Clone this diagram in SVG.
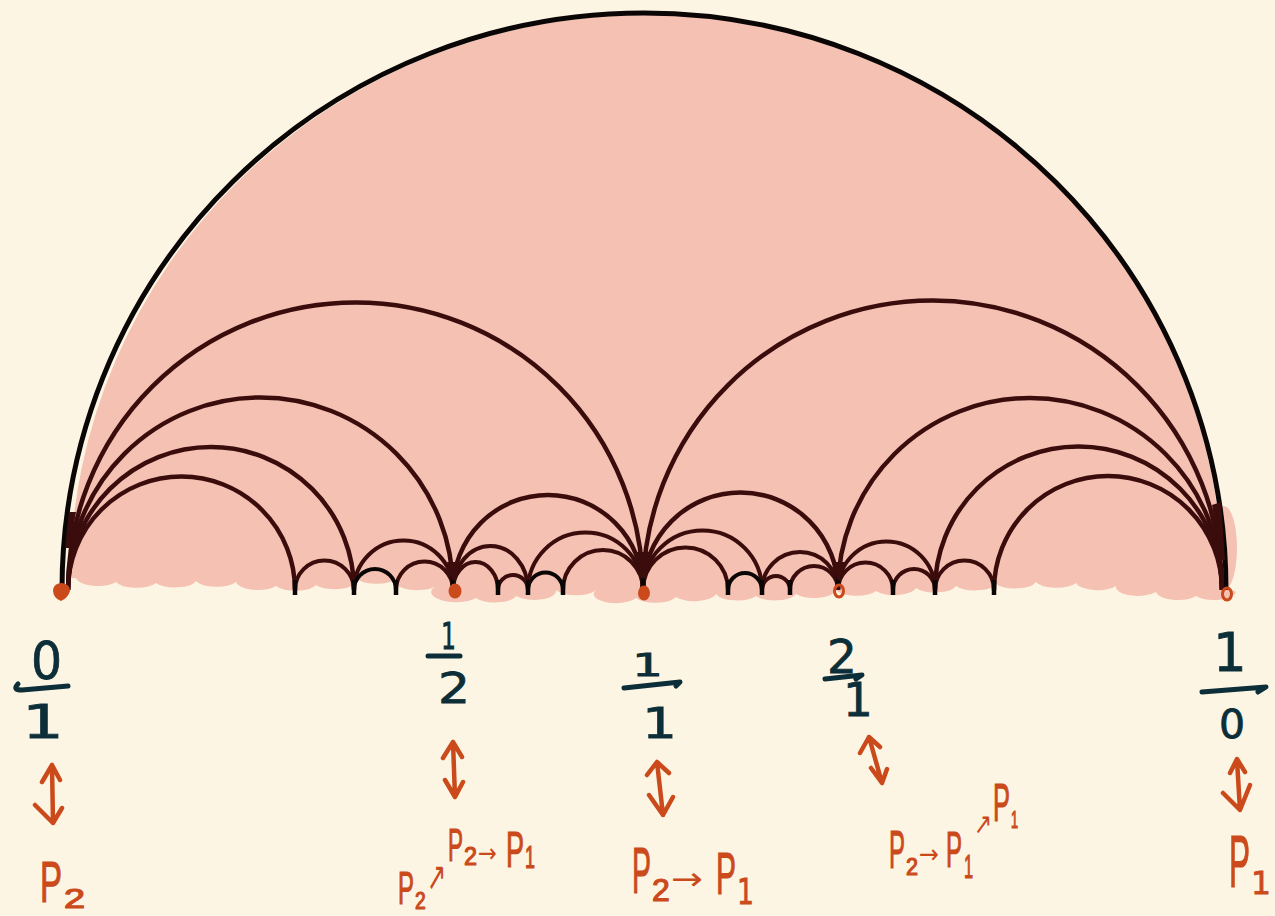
<svg xmlns="http://www.w3.org/2000/svg" width="1275" height="916" viewBox="0 0 1275 916">
<style>
.arc{fill:none;stroke:#3a0c0c;stroke-width:4.5;stroke-linecap:butt}
.sm{stroke-width:4}
.blk{stroke:#0a0606}
.tick{stroke:#0a0606;stroke-width:4.5}
.wedge{fill:#3a0c0c}
.num{font-family:"DejaVu Sans",sans-serif;fill:#0c2e38;stroke:#0c2e38;stroke-width:0.8}
.bar{fill:none;stroke:#0c2e38;stroke-width:5;stroke-linecap:round;stroke-linejoin:round}
.p{font-family:"Liberation Sans",sans-serif;fill:#cb4a1b;stroke:#cb4a1b;stroke-width:1.2}
.ar{font-family:"DejaVu Sans",sans-serif;fill:#cb4a1b}
.dj{font-family:"DejaVu Sans",sans-serif;fill:#cb4a1b;stroke:#cb4a1b;stroke-width:0.8}
.dbl{fill:none;stroke:#cb4a1b;stroke-width:4.5;stroke-linecap:round;stroke-linejoin:round}
.dot{fill:#cb4a1b}
.pink{fill:#f4c1b3}
</style>
<rect width="1275" height="916" fill="#fdf5e3"/>

<g id="fill">
<path class="pink" d="M 70 578 A 576 567 0 0 1 1222 585 L 1236 592
a 22 9 0 0 1 -40 4 a 22 9 0 0 1 -40 -4 a 22 9 0 0 1 -40 -6 a 22 9 0 0 1 -40 -3
a 22 9 0 0 1 -40 -1 a 22 9 0 0 1 -40 2 a 22 9 0 0 1 -40 2 a 22 9 0 0 1 -40 2
a 22 9 0 0 1 -40 3 a 22 9 0 0 1 -40 -1 a 22 9 0 0 1 -40 4 a 22 9 0 0 1 -40 2
a 22 9 0 0 1 -40 -2 a 22 9 0 0 1 -40 3 a 22 9 0 0 1 -40 1 a 22 9 0 0 1 -40 -8
a 22 9 0 0 1 -40 0 a 22 9 0 0 1 -40 6 a 22 9 0 0 1 -40 2 a 22 9 0 0 1 -40 -12
a 22 9 0 0 1 -40 -7 a 22 9 0 0 1 -40 -1 a 22 9 0 0 1 -40 7 a 22 9 0 0 1 -40 1
a 22 9 0 0 1 -40 -4 a 22 9 0 0 1 -40 -1 a 22 9 0 0 1 -40 2 a 22 9 0 0 1 -40 -1
a 22 9 0 0 1 -40 -4 Z"/>
<ellipse class="pink" cx="1224" cy="548" rx="13" ry="42"/>
</g>

<g id="connectors">
<path d="M 62 590 A 582 577 0 0 1 1226 590" fill="none" stroke="#0a0606" stroke-width="5"/>
<path class="arc" d="M 68 590 A 287.5 287.5 0 0 1 643 590"/>
<path class="arc" d="M 68 590 A 192.5 192.5 0 0 1 453 590"/>
<path class="arc" d="M 68 590 A 143 143 0 0 1 354 590"/>
<path class="arc" d="M 68 590 A 113.5 113.5 0 0 1 295 590"/>
<path class="arc" d="M 643 590 A 289.5 289.5 0 0 1 1222 590"/>
<path class="arc" d="M 838 590 A 192 192 0 0 1 1222 590"/>
<path class="arc" d="M 935 590 A 143.5 143.5 0 0 1 1222 590"/>
<path class="arc" d="M 994 590 A 114 114 0 0 1 1222 590"/>
<path class="arc" d="M 453 590 A 95 95 0 0 1 643 590"/>
<path class="arc" d="M 643 590 A 97.5 97.5 0 0 1 838 590"/>
<path class="arc sm" d="M 295 590 A 29.5 29.5 0 0 1 354 590"/>
<path class="arc sm" d="M 354 590 A 49.5 49.5 0 0 1 453 590"/>
<path class="arc sm blk" d="M 354 590 A 21 21 0 0 1 396 590"/>
<path class="arc sm" d="M 396 590 A 28.5 28.5 0 0 1 453 590"/>
<path class="arc sm" d="M 453 590 A 37.5 44 0 0 1 528 590"/>
<path class="arc sm" d="M 453 590 A 22.5 28 0 0 1 498 590"/>
<path class="arc sm" d="M 498 590 A 15 15 0 0 1 528 590"/>
<path class="arc sm blk" d="M 528 590 A 17.5 17.5 0 0 1 563 590"/>
<path class="arc sm" d="M 528 590 A 57.5 57.5 0 0 1 643 590"/>
<path class="arc sm" d="M 563 590 A 40 40 0 0 1 643 590"/>
<path class="arc sm" d="M 643 590 A 42.5 42.5 0 0 1 728 590"/>
<path class="arc sm" d="M 643 590 A 59.5 59.5 0 0 1 762 590"/>
<path class="arc sm blk" d="M 728 590 A 17 17 0 0 1 762 590"/>
<path class="arc sm" d="M 762 590 A 14 14 0 0 1 790 590"/>
<path class="arc sm" d="M 762 590 A 38 38 0 0 1 838 590"/>
<path class="arc sm" d="M 790 590 A 24 24 0 0 1 838 590"/>
<path class="arc sm" d="M 838 590 A 27.5 27.5 0 0 1 893 590"/>
<path class="arc sm" d="M 838 590 A 48.5 48.5 0 0 1 935 590"/>
<path class="arc sm" d="M 893 590 A 21 21 0 0 1 935 590"/>
<path class="arc sm" d="M 935 590 A 29.5 29.5 0 0 1 994 590"/>
<path class="tick" d="M 295 580 V 595 M 354 580 V 595 M 396 580 V 595 M 498 580 V 595 M 528 580 V 595 M 563 580 V 595 M 728 580 V 595 M 762 580 V 595 M 790 580 V 595 M 893 580 V 595 M 935 580 V 595 M 994 580 V 595"/>
<path class="tick" d="M 453 572 V 586 M 643 570 V 588 M 838 572 V 586"/>
<path class="wedge" d="M 634 552 L 652 552 L 646 578 L 641 578 Z"/>
<path class="wedge" d="M 447 562 L 460 562 L 456 580 L 452 580 Z"/>
<path class="wedge" d="M 832 562 L 845 562 L 841 580 L 837 580 Z"/>
<path class="wedge" d="M 65 548 L 69 512 L 76 512 L 70 548 Z"/>
<path class="wedge" d="M 1212 505 L 1221 502 L 1225 560 L 1221 560 Z"/>
<path class="dbl" d="M 52 765 L 53 823 M 42 782 L 52 765 L 60 780 M 35 805 L 53 823 L 62 808"/>
<path class="dbl" d="M 453 742 L 455 797 M 443 758 L 453 742 L 462 757 M 445 780 L 455 797 L 463 782"/>
<path class="dbl" d="M 657 762 L 663 815 M 647 775 L 657 762 L 669 773 M 649 795 L 663 815 L 673 797"/>
<path class="dbl" d="M 869 737 L 882 783 M 860 753 L 869 737 L 880 747 M 871 768 L 882 783 L 887 769"/>
<path class="dbl" d="M 1237 760 L 1240 810 M 1230 773 L 1237 759 L 1245 772 M 1223 793 L 1240 810 L 1250 785"/>
</g>

<g id="node-0-1">
<path class="dot" d="M 53 590 Q 54 583 62 583 Q 70 584 70 591 Q 68 598 61 601 Q 53 598 53 590 Z"/>
<text class="num" font-size="52" transform="translate(31,679) scale(0.94,1)">0</text>
<path class="bar" d="M 18 684 Q 12 690 22 690 L 68 686"/>
<text class="num" font-size="46" transform="translate(22,738) scale(1.43,1)">1</text>
<text class="p" font-size="58" transform="translate(40,902) scale(0.57,1)">P</text>
<text class="p" font-size="28" transform="translate(64,908) scale(1.35,1)">2</text>
</g>

<g id="node-1-2">
<ellipse class="dot" cx="455" cy="591" rx="6.5" ry="7.5"/>
<text class="num" font-size="38" transform="translate(441,649) scale(0.62,1)">1</text>
<path class="bar" d="M 428 656 L 460 656"/>
<text class="num" font-size="43" transform="translate(438,703) scale(1.17,1)">2</text>
<text class="p" font-size="46" transform="translate(398,904) scale(0.52,1)">P</text>
<text class="p" font-size="24" transform="translate(415,909) scale(0.8,1)">2</text>
<text class="ar" font-size="40" transform="translate(427,890) scale(0.57,1)">↗</text>
<text class="p" font-size="46" transform="translate(448,861) scale(0.49,1)">P</text>
<text class="p" font-size="26" transform="translate(464,865) scale(0.9,1)">2</text>
<text class="ar" font-size="26" transform="translate(478,862) scale(0.87,1)">→</text>
<text class="p" font-size="50" transform="translate(506,867) scale(0.54,1)">P</text>
<text class="p" font-size="32" transform="translate(525,868) scale(0.56,1)">1</text>
</g>

<g id="node-1-1">
<ellipse class="dot" cx="644" cy="593" rx="6" ry="7.5"/>
<text class="num" font-size="32" transform="translate(632,676) scale(1.52,1)">1</text>
<path class="bar" d="M 624 688 L 680 682 L 676 686"/>
<text class="num" font-size="43" transform="translate(642,738) scale(1.28,1)">1</text>
<text class="p" font-size="64" transform="translate(632,893) scale(0.445,1)">P</text>
<text class="p" font-size="32" transform="translate(652,901) scale(1.0,1)">2</text>
<text class="ar" font-size="32" transform="translate(671,890) scale(1.19,1)">→</text>
<text class="p" font-size="60" transform="translate(716,894) scale(0.5,1)">P</text>
<text class="dj" font-size="36" transform="translate(737,904) scale(0.74,1)">1</text>
</g>

<g id="node-2-1">
<ellipse cx="839" cy="591" rx="4.5" ry="6" fill="none" stroke="#cb4a1b" stroke-width="3"/>
<text class="num" font-size="46" transform="translate(827,673) scale(1.02,1)">2</text>
<path class="bar" d="M 825 679 L 862 675 L 856 679"/>
<text class="num" font-size="46" transform="translate(843,716) scale(1.02,1)">1</text>
<text class="p" font-size="54" transform="translate(889,868) scale(0.444,1)">P</text>
<text class="p" font-size="24" transform="translate(906,875) scale(0.9,1)">2</text>
<text class="ar" font-size="26" transform="translate(919,863) scale(0.92,1)">→</text>
<text class="p" font-size="50" transform="translate(946,867) scale(0.48,1)">P</text>
<text class="p" font-size="34" transform="translate(964,878) scale(0.48,1)">1</text>
<text class="ar" font-size="30" transform="translate(974,834) scale(0.72,1)">↗</text>
<text class="p" font-size="54" transform="translate(993,821) scale(0.47,1)">P</text>
<text class="p" font-size="24" transform="translate(1011,828) scale(0.53,1)">1</text>
</g>

<g id="node-1-0">
<ellipse cx="1227" cy="594" rx="4.5" ry="6" fill="none" stroke="#cb4a1b" stroke-width="3"/>
<text class="num" font-size="53" transform="translate(1213,671) scale(1.0,1)">1</text>
<path class="bar" d="M 1202 692 L 1266 687 L 1258 692"/>
<text class="num" font-size="39" transform="translate(1219,738) scale(1.05,1)">0</text>
<text class="p" font-size="74" transform="translate(1229,887) scale(0.425,1)">P</text>
<text class="dj" font-size="32" transform="translate(1251,894) scale(0.98,1)">1</text>
</g>
</svg>
